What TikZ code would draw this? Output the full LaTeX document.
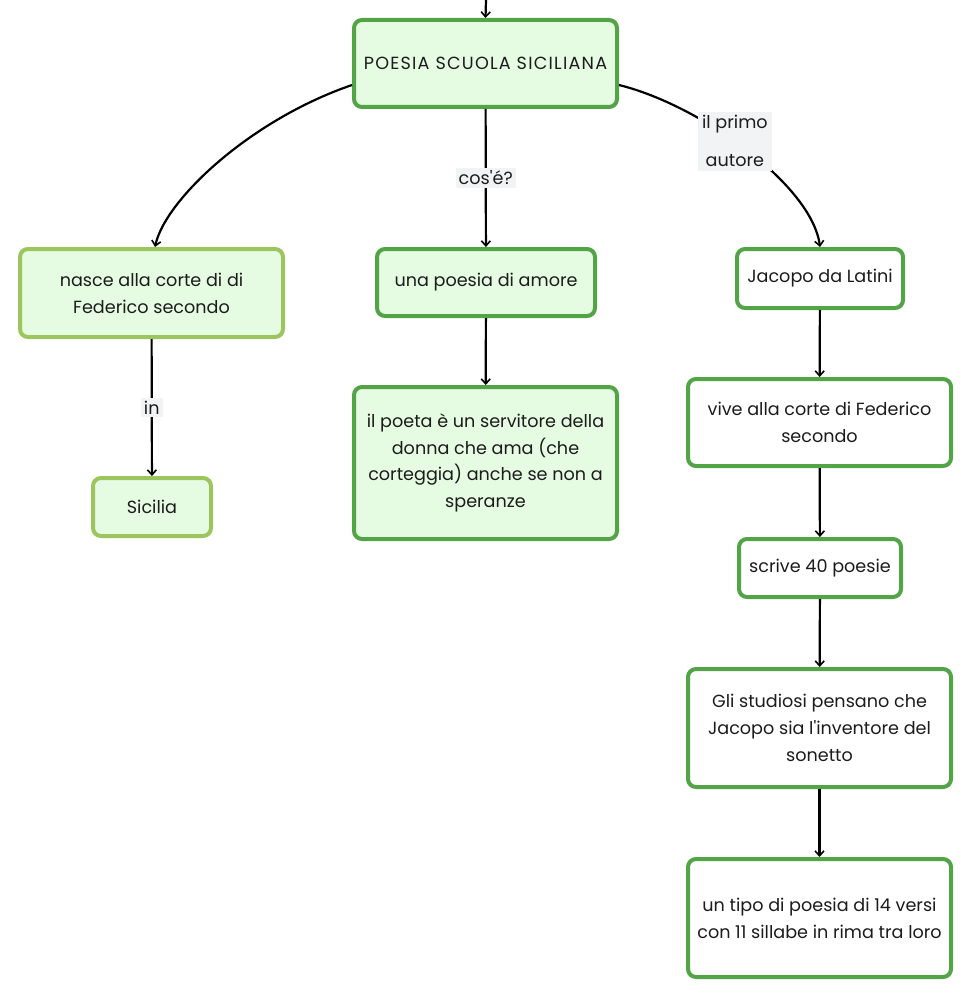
\documentclass[tikz,border=0pt]{standalone}
\usepackage{fontspec}
\setmainfont{Poppins}[Ligatures=TeXOff]
\usetikzlibrary{arrows.meta}
\definecolor{dkgreen}{HTML}{52A447}
\definecolor{ltgreen}{HTML}{9DC55E}
\definecolor{boxfill}{HTML}{E5FBE2}
\definecolor{lblbg}{HTML}{F1F3F4}
\definecolor{txt}{HTML}{1C1C1C}
\tikzset{
  cbox/.style={rectangle, rounded corners=8pt, line width=4pt, inner sep=0pt, align=center, text=txt,
    font=\fontsize{17.6}{26.8}\selectfont},
  dkbox/.style={cbox, draw=dkgreen, fill=boxfill},
  ltbox/.style={cbox, draw=ltgreen, fill=boxfill},
  whbox/.style={cbox, draw=dkgreen, fill=white},
  conn/.style={line width=2.2pt, draw=black, -{Straight Barb[length=5pt,width=9pt,line width=1.6pt]}},
  lbl/.style={fill=lblbg, text=txt, inner sep=3pt, font=\fontsize{17.6}{26.8}\selectfont, align=center}
}
\begin{document}
\begin{tikzpicture}[x=1pt,y=-1pt]
\useasboundingbox (0,0) rectangle (972,1000);
\node[dkbox, minimum width=263pt, minimum height=87pt] (poesia) at (485.5,63.5) {\addfontfeature{LetterSpace=7}POESIA SCUOLA SICILIANA};
\node[ltbox, minimum width=263pt, minimum height=88pt] (nasce) at (151.5,293) {nasce alla corte di di\\Federico secondo};
\node[dkbox, minimum width=218pt, minimum height=67pt] (amore) at (486,282.5) {una poesia di amore};
\node[whbox, minimum width=166pt, minimum height=59pt] (jacopo) at (820,278.5) {Jacopo da Latini};
\node[ltbox, minimum width=118pt, minimum height=58pt] (sicilia) at (152,507) {Sicilia};
\node[dkbox, minimum width=263pt, minimum height=152pt] (poeta) at (485.5,463) {il poeta è un servitore della\\donna che ama (che\\corteggia) anche se non a\\speranze};
\node[whbox, minimum width=263pt, minimum height=87pt] (vive) at (819.5,422.5) {vive alla corte di Federico\\secondo};
\node[whbox, minimum width=162pt, minimum height=58pt] (scrive) at (820,568) {scrive 40 poesie};
\node[whbox, minimum width=263pt, minimum height=118pt] (studiosi) at (819.5,728) {Gli studiosi pensano che\\Jacopo sia l'inventore del\\sonetto};
\node[whbox, minimum width=263pt, minimum height=118pt] (tipo) at (819.5,918) {un tipo di poesia di 14 versi\\con 11 sillabe in rima tra loro};

\coordinate (top) at (486,0);
\draw[conn] (top) -- (poesia.north);
\draw[conn] (poesia.west |- 0,85) .. controls (250,120) and (165,200) .. (nasce.north -| 155,0);
\draw[conn] (poesia) -- node[lbl] {cos'é?} (amore);
\draw[conn] (poesia.east |- 0,85) .. controls (700,105) and (812,185) .. node[lbl, pos=0.45, inner xsep=4pt, inner ysep=4pt, font=\fontsize{17.6}{38}\selectfont] (primo) {il primo\\autore} (jacopo.north);
\draw[conn] (nasce) -- node[lbl] {in} (sicilia);
\draw[conn] (amore) -- (poeta);
\draw[conn] (jacopo) -- (vive);
\draw[conn] (vive) -- (scrive);
\draw[conn] (scrive) -- (studiosi);
\draw[conn] (studiosi) -- (tipo);
\end{tikzpicture}
\end{document}
